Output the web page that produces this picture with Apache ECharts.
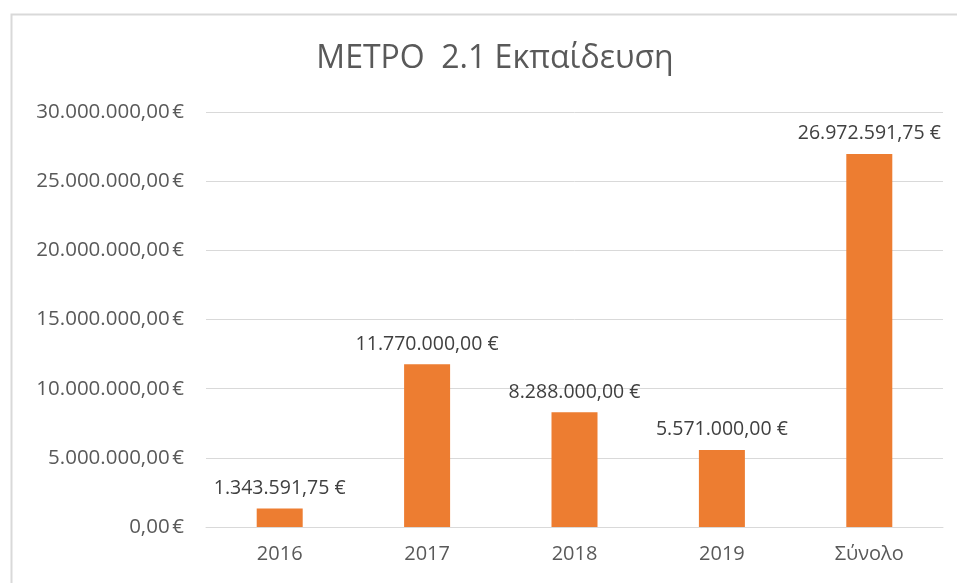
<!DOCTYPE html>
<html>
<head>
<meta charset="utf-8">
<script src="https://cdn.jsdelivr.net/npm/echarts@6/dist/echarts.min.js"></script>
<style>
html, body { margin: 0; padding: 0; background: #fff; }
#main { width: 957px; height: 583px; }
</style>
</head>
<body>
<div id="main"></div>
<script>
// κατηγορίες και ποσά (€)
var categories = ['2016', '2017', '2018', '2019', 'Σύνολο'];
var amounts = [1343591.75, 11770000, 8288000, 5571000, 26972591.75];

var axisMin = 0;
var axisMax = 30000000;
var axisStep = 5000000;

// μορφή αριθμού: 1.343.591,75
function formatEuro(v) {
    var parts = v.toFixed(2).split('.');
    var intPart = parts[0].replace(/\B(?=(\d{3})+(?!\d))/g, '.');
    return intPart + ',' + parts[1];
}

var myChart = echarts.init(document.getElementById('main'));

var option = {
    animation: false,
    backgroundColor: '#fff',
    graphic: [{
        type: 'rect',
        left: 9,
        top: 12,
        shape: { width: 1000, height: 700 },
        style: { fill: 'none', stroke: '#d9d9d9', lineWidth: 2 },
        silent: true
    }],
    title: {
        text: 'ΜΕΤΡΟ  2.1 Εκπαίδευση',
        left: 490,
        textAlign: 'center',
        top: 38,
        textStyle: {
            fontFamily: 'Open Sans',
            fontWeight: 'normal',
            fontSize: 32,
            color: '#595959'
        }
    },
    grid: {
        left: 206,
        right: 14,
        top: 112,
        bottom: 56
    },
    xAxis: {
        type: 'category',
        data: categories,
        axisLine: { lineStyle: { color: '#d9d9d9', width: 1 } },
        axisTick: { show: false },
        axisLabel: {
            color: '#595959',
            fontFamily: 'Open Sans',
            fontSize: 20,
            margin: 17
        }
    },
    yAxis: {
        type: 'value',
        min: axisMin,
        max: axisMax,
        interval: axisStep,
        axisLine: { show: false },
        axisTick: { show: false },
        splitLine: { lineStyle: { color: '#d9d9d9', width: 1 } },
        axisLabel: {
            color: '#595959',
            fontFamily: 'Open Sans',
            fontSize: 20.5,
            margin: 22,
            formatter: function (v) { return formatEuro(v) + '\u202F€'; }
        }
    },
    series: [{
        type: 'bar',
        data: amounts,
        barWidth: 46,
        itemStyle: { color: '#ED7D31' },
        label: {
            show: true,
            position: 'top',
            distance: 10,
            color: '#404040',
            fontFamily: 'Open Sans',
            fontSize: 19.5,
            formatter: function (p) { return formatEuro(p.value) + ' €'; }
        }
    }]
};

myChart.setOption(option);
</script>
</body>
</html>
